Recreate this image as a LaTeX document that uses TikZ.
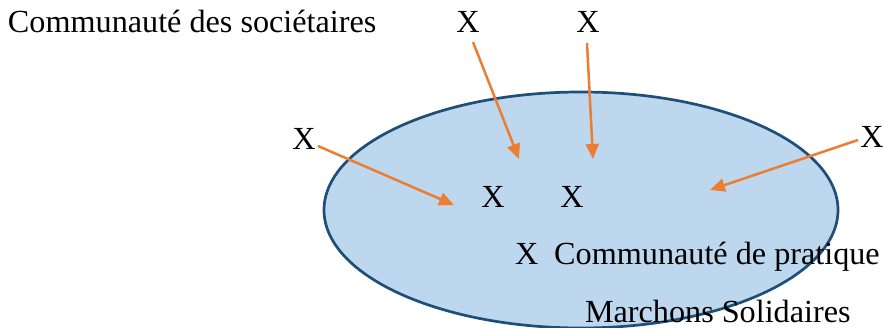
\documentclass[tikz,border=0pt]{standalone}
\usepackage{fontspec}
\setmainfont{Liberation Serif}
\usetikzlibrary{arrows.meta}
\definecolor{ellfill}{HTML}{BDD7EE}
\definecolor{elldraw}{HTML}{1F4E79}
\definecolor{arrorange}{HTML}{ED7D31}
\begin{document}
\begin{tikzpicture}[x=1pt,y=-1pt,
  lbl/.style={inner sep=0pt,outer sep=0pt,font=\fontsize{32.2}{38}\selectfont},
  arr/.style={draw=arrorange,line width=2.5pt,-{Triangle[length=15pt,width=13pt]}}]
\useasboundingbox (0,0) rectangle (883,328);
\clip (0,0) rectangle (883,328);
\draw[fill=ellfill,draw=elldraw,line width=2.7pt] (581,210) ellipse[x radius=257,y radius=118];
\node[lbl,anchor=base west] (soc) at (8,33) {Communauté des sociétaires};
\node[lbl,anchor=base] (xt1) at (468,33) {X};
\node[lbl,anchor=base] (xt2) at (588,33) {X};
\node[lbl,anchor=base] (xl) at (304,150) {X};
\node[lbl,anchor=base] (xr) at (872,148) {X};
\node[lbl,anchor=base] (xi1) at (493,208) {X};
\node[lbl,anchor=base] (xi2) at (572,208) {X};
\node[lbl,anchor=base west] (cp) at (515,265) {X\hspace{16pt}Communauté de pratique};
\node[lbl,anchor=base west] (ms) at (585,323) {Marchons Solidaires};
\coordinate (t1) at (519,159);
\coordinate (t2) at (593,159);
\coordinate (tl) at (454,205);
\coordinate (tr) at (710,190);
\draw[arr] (473,42) -- (t1);
\draw[arr] (587,43) -- (t2);
\draw[arr] (318,146) -- (tl);
\draw[arr] (858,140) -- (tr);
\end{tikzpicture}
\end{document}
